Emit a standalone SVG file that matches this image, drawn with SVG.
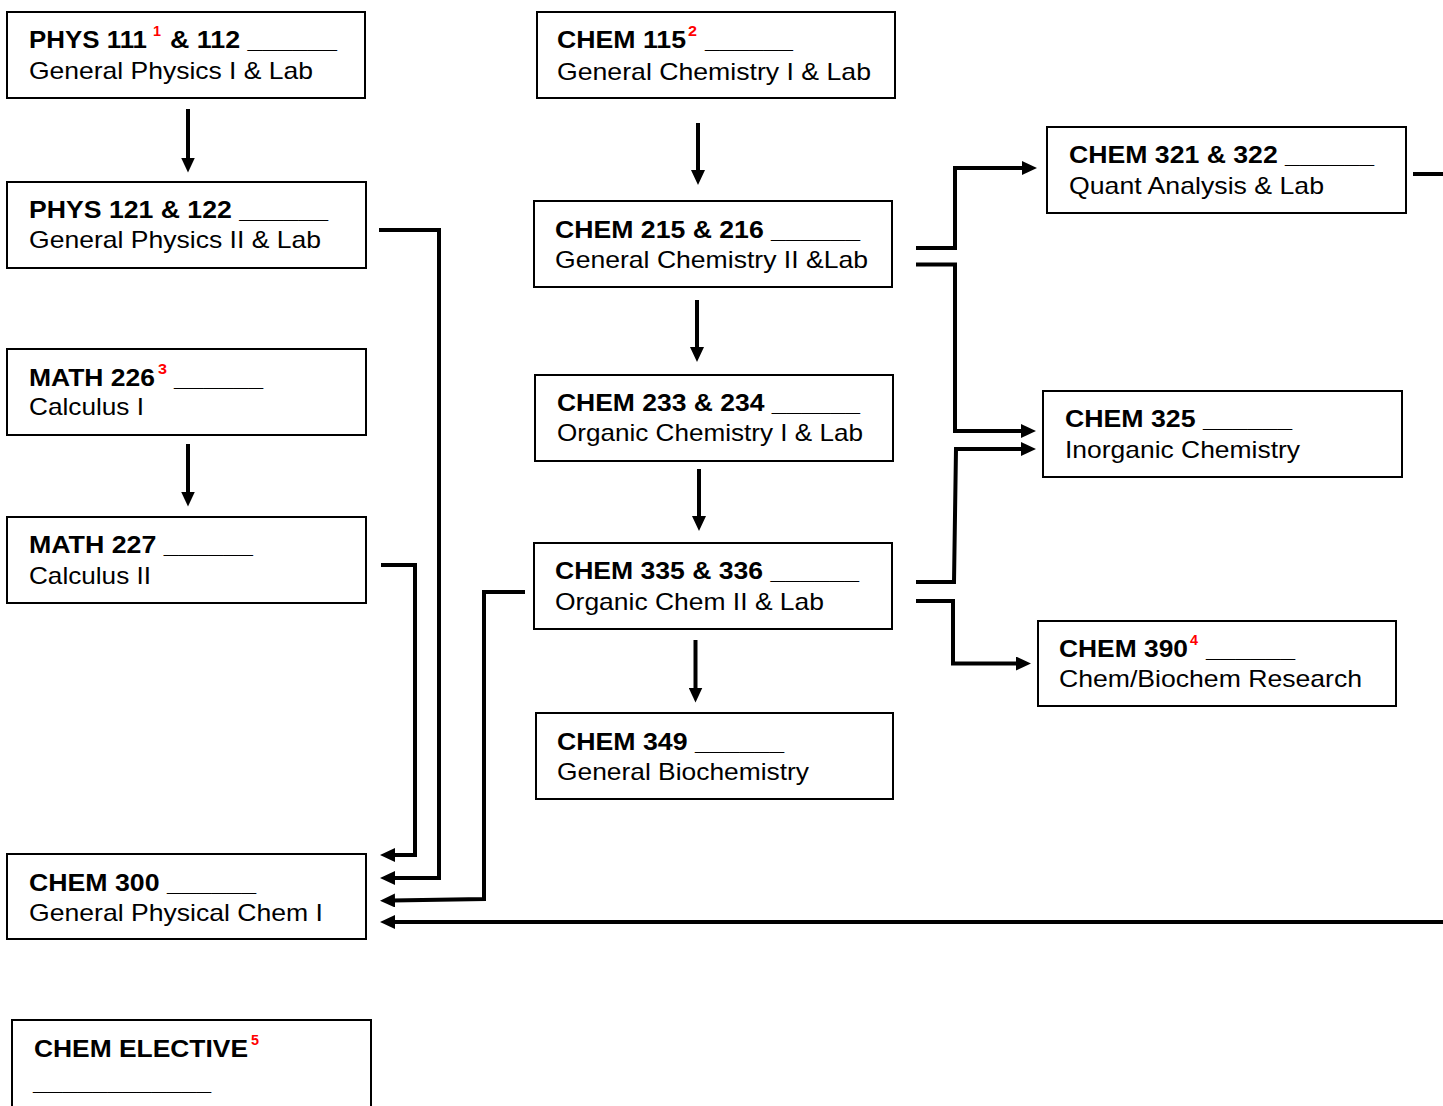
<svg xmlns="http://www.w3.org/2000/svg" width="1443" height="1106" viewBox="0 0 1443 1106">
<style>
.box{fill:#fff;stroke:#000;stroke-width:2}
.t{font-family:"Liberation Sans",Arial,sans-serif;font-size:24px;font-weight:bold;fill:#000}
.s{font-family:"Liberation Sans",Arial,sans-serif;font-size:24px;fill:#000}
.sup{font-family:"Liberation Sans",Arial,sans-serif;font-size:14px;font-weight:bold;fill:#ff0000}
.c{fill:none;stroke:#000;stroke-width:4;stroke-linejoin:miter}
</style>
<defs>
<marker id="ah" viewBox="0 0 15 14" refX="3" refY="7" markerWidth="15" markerHeight="14" markerUnits="userSpaceOnUse" orient="auto">
<path d="M0,0 L15,7 L0,14 z" fill="#000"/>
</marker>
</defs>
<rect width="1443" height="1106" fill="#fff"/>

<g id="phys111">
<rect class="box" x="7" y="12" width="358" height="86"/>
<text class="t" x="29" y="48" textLength="118" lengthAdjust="spacingAndGlyphs">PHYS 111</text>
<text class="sup" x="153" y="36" textLength="8" lengthAdjust="spacingAndGlyphs">1</text>
<text class="t" x="170" y="48" textLength="167" lengthAdjust="spacingAndGlyphs">&amp; 112 ______</text>
<text class="s" x="29" y="79" textLength="284" lengthAdjust="spacingAndGlyphs">General Physics I &amp; Lab</text>
</g>
<g id="phys121">
<rect class="box" x="7" y="182" width="359" height="86"/>
<text class="t" x="29" y="218" textLength="299" lengthAdjust="spacingAndGlyphs">PHYS 121 &amp; 122 ______</text>
<text class="s" x="29" y="248" textLength="292" lengthAdjust="spacingAndGlyphs">General Physics II &amp; Lab</text>
</g>
<g id="math226">
<rect class="box" x="7" y="349" width="359" height="86"/>
<text class="t" x="29" y="386" textLength="126" lengthAdjust="spacingAndGlyphs">MATH 226</text>
<text class="sup" x="158" y="374" textLength="9" lengthAdjust="spacingAndGlyphs">3</text>
<text class="t" x="174" y="386" textLength="89" lengthAdjust="spacingAndGlyphs">______</text>
<text class="s" x="29" y="415" textLength="115" lengthAdjust="spacingAndGlyphs">Calculus I</text>
</g>
<g id="math227">
<rect class="box" x="7" y="517" width="359" height="86"/>
<text class="t" x="29" y="553" textLength="224" lengthAdjust="spacingAndGlyphs">MATH 227 ______</text>
<text class="s" x="29" y="584" textLength="122" lengthAdjust="spacingAndGlyphs">Calculus II</text>
</g>
<g id="chem300">
<rect class="box" x="7" y="854" width="359" height="85"/>
<text class="t" x="29" y="891" textLength="227" lengthAdjust="spacingAndGlyphs">CHEM 300 ______</text>
<text class="s" x="29" y="921" textLength="294" lengthAdjust="spacingAndGlyphs">General Physical Chem I</text>
</g>
<g id="chemelective">
<rect class="box" x="12" y="1020" width="359" height="100"/>
<text class="t" x="34" y="1057" textLength="214" lengthAdjust="spacingAndGlyphs">CHEM ELECTIVE</text>
<text class="sup" x="251" y="1045" textLength="8" lengthAdjust="spacingAndGlyphs">5</text>
<text class="t" x="33" y="1090" textLength="178" lengthAdjust="spacingAndGlyphs">____________</text>
</g>
<g id="chem115">
<rect class="box" x="537" y="12" width="358" height="86"/>
<text class="t" x="557" y="48" textLength="129" lengthAdjust="spacingAndGlyphs">CHEM 115</text>
<text class="sup" x="688" y="36" textLength="9" lengthAdjust="spacingAndGlyphs">2</text>
<text class="t" x="705" y="48" textLength="88" lengthAdjust="spacingAndGlyphs">______</text>
<text class="s" x="557" y="80" textLength="314" lengthAdjust="spacingAndGlyphs">General Chemistry I &amp; Lab</text>
</g>
<g id="chem215">
<rect class="box" x="534" y="201" width="358" height="86"/>
<text class="t" x="555" y="238" textLength="305" lengthAdjust="spacingAndGlyphs">CHEM 215 &amp; 216 ______</text>
<text class="s" x="555" y="268" textLength="313" lengthAdjust="spacingAndGlyphs">General Chemistry II &amp;Lab</text>
</g>
<g id="chem233">
<rect class="box" x="535" y="375" width="358" height="86"/>
<text class="t" x="557" y="411" textLength="303" lengthAdjust="spacingAndGlyphs">CHEM 233 &amp; 234 ______</text>
<text class="s" x="557" y="441" textLength="306" lengthAdjust="spacingAndGlyphs">Organic Chemistry I &amp; Lab</text>
</g>
<g id="chem335">
<rect class="box" x="534" y="543" width="358" height="86"/>
<text class="t" x="555" y="579" textLength="304" lengthAdjust="spacingAndGlyphs">CHEM 335 &amp; 336 ______</text>
<text class="s" x="555" y="610" textLength="269" lengthAdjust="spacingAndGlyphs">Organic Chem II &amp; Lab</text>
</g>
<g id="chem349">
<rect class="box" x="536" y="713" width="357" height="86"/>
<text class="t" x="557" y="750" textLength="227" lengthAdjust="spacingAndGlyphs">CHEM 349 ______</text>
<text class="s" x="557" y="780" textLength="252" lengthAdjust="spacingAndGlyphs">General Biochemistry</text>
</g>
<g id="chem321">
<rect class="box" x="1047" y="127" width="359" height="86"/>
<text class="t" x="1069" y="163" textLength="305" lengthAdjust="spacingAndGlyphs">CHEM 321 &amp; 322 ______</text>
<text class="s" x="1069" y="194" textLength="255" lengthAdjust="spacingAndGlyphs">Quant Analysis &amp; Lab</text>
</g>
<g id="chem325">
<rect class="box" x="1043" y="391" width="359" height="86"/>
<text class="t" x="1065" y="427" textLength="227" lengthAdjust="spacingAndGlyphs">CHEM 325 ______</text>
<text class="s" x="1065" y="458" textLength="235" lengthAdjust="spacingAndGlyphs">Inorganic Chemistry</text>
</g>
<g id="chem390">
<rect class="box" x="1038" y="621" width="358" height="85"/>
<text class="t" x="1059" y="657" textLength="129" lengthAdjust="spacingAndGlyphs">CHEM 390</text>
<text class="sup" x="1190" y="645" textLength="8" lengthAdjust="spacingAndGlyphs">4</text>
<text class="t" x="1206" y="657" textLength="89" lengthAdjust="spacingAndGlyphs">______</text>
<text class="s" x="1059" y="687" textLength="303" lengthAdjust="spacingAndGlyphs">Chem/Biochem Research</text>
</g>

<g id="connectors">
<path class="c" d="M188,109 V160.5" marker-end="url(#ah)"/>
<path class="c" d="M188,444 V494.5" marker-end="url(#ah)"/>
<path class="c" d="M698,123 V173" marker-end="url(#ah)"/>
<path class="c" d="M697,300 V350" marker-end="url(#ah)"/>
<path class="c" d="M699,469 V519" marker-end="url(#ah)"/>
<path class="c" d="M695.5,640 V690.5" marker-end="url(#ah)"/>
<path class="c" d="M379,230 H439 V878 H392" marker-end="url(#ah)"/>
<path class="c" d="M381,565 H415 V855 H392" marker-end="url(#ah)"/>
<path class="c" d="M525,592 H484 V899 L392,900.5" marker-end="url(#ah)"/>
<path class="c" d="M1443,922 H392" marker-end="url(#ah)"/>
<path class="c" d="M1413,174 H1443"/>
<path class="c" d="M916,248 H955 V168 H1025" marker-end="url(#ah)"/>
<path class="c" d="M916,264.5 H955 V431 H1024" marker-end="url(#ah)"/>
<path class="c" d="M916,582 H954 L956,449 H1024" marker-end="url(#ah)"/>
<path class="c" d="M916,601 H953 V663.5 H1019" marker-end="url(#ah)"/>
</g>
</svg>
